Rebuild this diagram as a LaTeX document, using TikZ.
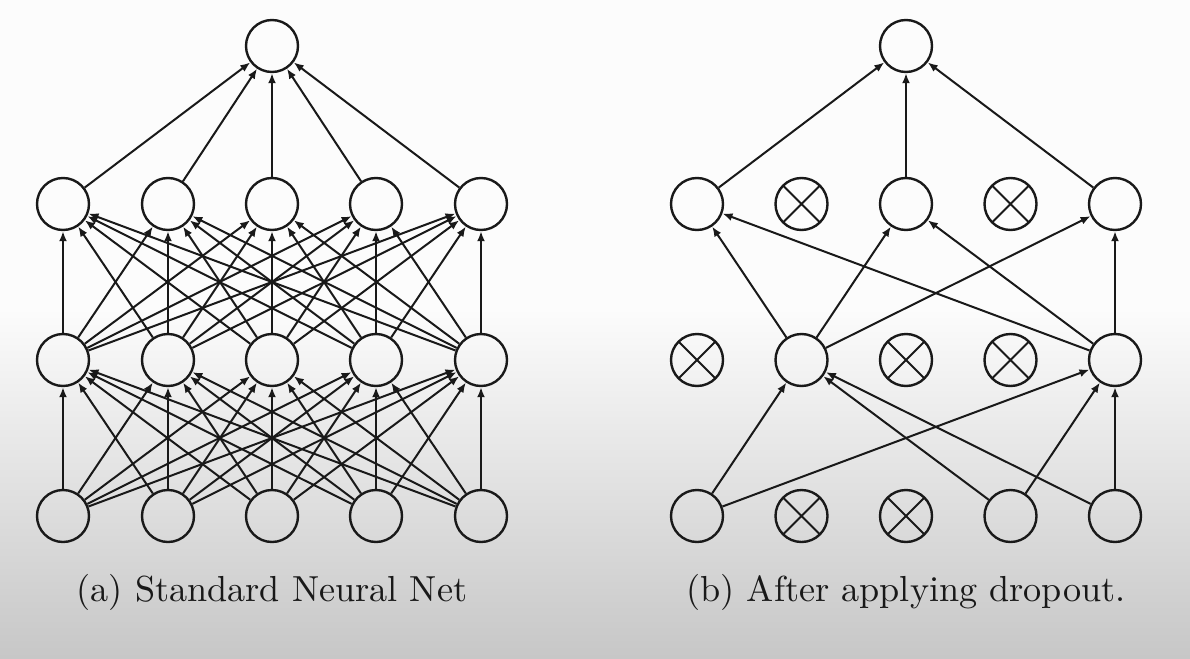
\documentclass[tikz,border=0pt]{standalone}
\usepackage{fontspec}
\newfontfamily\capfont{lmroman10-regular.otf}
\usetikzlibrary{arrows.meta}

\begin{document}
\begin{tikzpicture}[x=1pt, y=-1pt,
                    neu/.style={circle, draw=black!90, line width=2.4pt, minimum size=52pt, inner sep=0pt},
                    drop/.style={neu, path picture={\draw[black!90, line width=2pt]
                        (path picture bounding box.north west) -- (path picture bounding box.south east)
                        (path picture bounding box.south west) -- (path picture bounding box.north east);}},
                    ed/.style={black!90, line width=2pt, -{Latex[length=10pt, width=8pt]}},
                    subcap/.style={anchor=base, text=black!90, font=\capfont\fontsize{36.2}{40}\selectfont}]
  \useasboundingbox (0,0) rectangle (1190,658);
  \fill[black!1] (0,0) rectangle (1190,658);
  \shade[top color=black!1, bottom color=black!22] (0,305) rectangle (1190,658);
  % (a) standard net
  \foreach \i/\x in {0/63,1/168,2/272,3/376,4/481} {
    \node[neu] (ain\i) at (\x,516) {};
    \node[neu] (ah1\i) at (\x,360) {};
    \node[neu] (ah2\i) at (\x,204) {};
  }
  \node[neu] (aout) at (272,46) {};
  \foreach \i in {0,...,4} {
    \foreach \j in {0,...,4} {
      \draw[ed] (ain\i) -- (ah1\j);
      \draw[ed] (ah1\i) -- (ah2\j);
    }
    \draw[ed] (ah2\i) -- (aout);
  }
  \node[subcap] (capa) at (272,601) {(a) Standard Neural Net};
  % (b) thinned net
  \foreach \i/\x/\sa/\sb/\sc in {0/697/neu/drop/neu, 1/801.5/drop/neu/drop, 2/906/drop/drop/neu,
                                 3/1010.5/neu/drop/drop, 4/1115/neu/neu/neu} {
    \node[\sa] (bin\i) at (\x,516) {};
    \node[\sb] (bh1\i) at (\x,360) {};
    \node[\sc] (bh2\i) at (\x,204) {};
  }
  \node[neu] (bout) at (906,46) {};
  \foreach \i in {0,3,4} \foreach \j in {1,4} \draw[ed] (bin\i) -- (bh1\j);
  \foreach \i in {1,4} \foreach \j in {0,2,4} \draw[ed] (bh1\i) -- (bh2\j);
  \foreach \i in {0,2,4} \draw[ed] (bh2\i) -- (bout);
  \node[subcap] (capb) at (906,601) {(b) After applying dropout.};
\end{tikzpicture}
\end{document}
